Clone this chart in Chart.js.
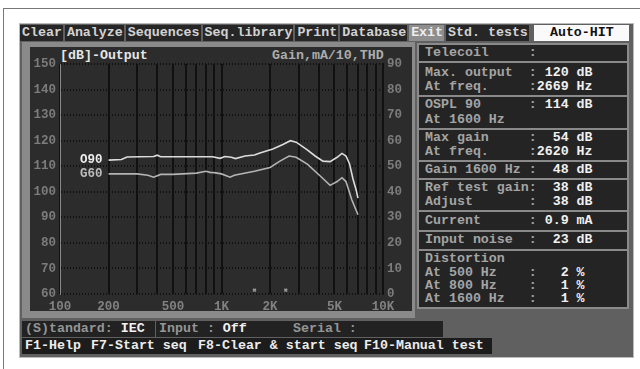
<!DOCTYPE html>
<html><head><meta charset="utf-8">
<script src="https://cdn.jsdelivr.net/npm/chart.js@4/dist/chart.umd.min.js"></script>
<style>
html,body{margin:0;padding:0;background:#fff;}
body{width:640px;height:369px;position:relative;overflow:hidden;font-family:"Liberation Mono","DejaVu Sans Mono",monospace;font-weight:bold;font-size:13.3px;}
.abs{position:absolute;}
#frame{left:3px;top:8px;width:700px;height:400px;border-left:1px solid #777;border-top:1px solid #777;}
#screen{left:19px;top:23px;width:613px;height:333px;background:#606060;border:1px solid #bbb;}
#menu{left:20px;top:25px;height:16px;width:611px;display:flex;background:#606060;}
#menu div{background:#262626;color:#d2d2d2;line-height:16px;padding:0 1px 0 2px;margin-right:2px;white-space:pre;}
#menu div.hl{background:#8e8e8e;color:#eee;}
#menu div.hit{background:#fafafa;color:#111;width:92px;text-align:center;margin-left:3px;margin-right:0;}
#cpanel{left:22px;top:42px;width:393px;height:276px;background:#8a8a8a;}
#cinner{left:30px;top:47px;width:382px;height:264px;background:#2c2c2c;}
#rpanel{left:417px;top:43px;width:212px;height:266px;background:#8a8a8a;}
.box{position:absolute;left:419px;width:208px;background:#242424;}
.ln{position:absolute;left:425px;white-space:pre;color:#a4a4a4;line-height:14px;}
.ln b{color:#f0f0f0;}
.ttl{position:absolute;white-space:pre;line-height:14px;}
.st{position:absolute;background:#222;color:#959595;white-space:pre;line-height:16px;}
.st b{color:#f2f2f2;}
.fk{position:absolute;background:#1c1c1c;color:#ececec;white-space:pre;line-height:16px;}
canvas{position:absolute;left:0;top:0;}
</style></head>
<body>
<div id="frame" class="abs"></div>
<div id="screen" class="abs"></div>
<div id="menu" class="abs">
<div>Clear</div><div>Analyze</div><div>Sequences</div><div>Seq.library</div><div>Print</div><div>Database</div><div class="hl">Exit</div><div>Std. tests</div><div class="hit">Auto-HIT</div>
</div>
<div id="cpanel" class="abs"></div>
<div id="cinner" class="abs"></div>
<div id="rpanel" class="abs"></div>
<div class="box" style="top:45px;height:16px"></div>
<div class="box" style="top:63px;height:32px"></div>
<div class="box" style="top:97px;height:31px"></div>
<div class="box" style="top:130px;height:30px"></div>
<div class="box" style="top:162px;height:16px"></div>
<div class="box" style="top:180px;height:30px"></div>
<div class="box" style="top:212px;height:18px"></div>
<div class="box" style="top:232px;height:17px"></div>
<div class="box" style="top:251px;height:56px"></div>
<div class="ln" style="top:46px">Telecoil     :</div>
<div class="ln" style="top:66px">Max. output  : <b>120 dB</b></div>
<div class="ln" style="top:80px">At freq.     :<b>2669 Hz</b></div>
<div class="ln" style="top:98px">OSPL 90      : <b>114 dB</b></div>
<div class="ln" style="top:113px">At 1600 Hz</div>
<div class="ln" style="top:131px">Max gain     : <b> 54 dB</b></div>
<div class="ln" style="top:145px">At freq.     :<b>2620 Hz</b></div>
<div class="ln" style="top:163px">Gain 1600 Hz : <b> 48 dB</b></div>
<div class="ln" style="top:181px">Ref test gain: <b> 38 dB</b></div>
<div class="ln" style="top:195px">Adjust       : <b> 38 dB</b></div>
<div class="ln" style="top:214px">Current      : <b>0.9 mA</b></div>
<div class="ln" style="top:233px">Input noise  : <b> 23 dB</b></div>
<div class="ln" style="top:252px">Distortion</div>
<div class="ln" style="top:266px">At 500 Hz    :   <b>2 %</b></div>
<div class="ln" style="top:279px">At 800 Hz    :   <b>1 %</b></div>
<div class="ln" style="top:292px">At 1600 Hz   :   <b>1 %</b></div>
<div class="ttl" style="left:60px;top:49px;color:#e6e6e6">[dB]-Output</div>
<div class="ttl" style="left:272px;top:49px;color:#adadad">Gain,mA/10,THD</div>
<div class="st" style="left:22px;top:321px;width:130px;padding-left:3px">(S)tandard: <b>IEC</b></div>
<div class="st" style="left:156px;top:321px;width:131px;padding-left:3px">Input : <b>Off</b></div>
<div class="st" style="left:290px;top:321px;width:150px;padding-left:3px">Serial :</div>
<div class="st" style="left:443px;top:321px;width:185px"></div>
<div class="fk" style="left:22px;top:338px;width:63px;padding-left:3px">F1-Help</div>
<div class="fk" style="left:88px;top:338px;width:104px;padding-left:3px">F7-Start seq</div>
<div class="fk" style="left:195px;top:338px;width:163px;padding-left:3px">F8-Clear &amp; start seq</div>
<div class="fk" style="left:361px;top:338px;width:128px;padding-left:3px">F10-Manual test</div>
<div class="fk" style="left:492px;top:338px;width:136px"></div>
<canvas id="c" width="640" height="369"></canvas>
<script>
// ---- data ----
const o90Freq   = [200, 240, 260, 380, 400, 420, 600, 880, 980, 1050, 1150, 1220, 1400, 1600, 1730, 2080, 2400, 2670, 2900, 3380, 3800, 4250, 4700, 5200, 5570, 5900, 6200, 6520, 6800, 7000];
const o90Values = [112.4, 112.6, 113.6, 113.8, 114.3, 113.7, 113.7, 113.7, 113.1, 113.8, 113.5, 113.0, 114.0, 114.4, 115.2, 116.7, 118.5, 120.0, 119.4, 116.5, 114.0, 112.0, 111.8, 113.5, 115.0, 114.0, 111.0, 105.0, 101.0, 97.5];
const g60Freq   = [200, 300, 350, 380, 420, 500, 700, 800, 850, 900, 1000, 1130, 1200, 1600, 2000, 2300, 2620, 2900, 3400, 4200, 4700, 5200, 5570, 5900, 6400, 7000];
const g60Values = [47.0, 47.0, 46.5, 45.7, 46.8, 46.8, 47.3, 48.0, 47.6, 47.5, 47.0, 45.7, 46.5, 48.0, 49.5, 52.0, 54.0, 53.5, 50.8, 45.5, 42.5, 44.0, 45.5, 44.0, 37.0, 31.0];
const thdFreq   = [1600, 2500];
const thdValues = [1.5, 1.5];
const seriesNames = ['O90', 'G60'];
const xGridValues = [100,200,300,400,500,600,700,800,900,1000,2000,3000,4000,5000,6000,7000,8000,9000,10000];
const xTickValues = [100, 200, 500, 1000, 2000, 5000, 10000];
const xTickLabels = ['100', '200', '500', '1K', '2K', '5K', '10K'];
const leftTicks  = [60,70,80,90,100,110,120,130,140,150];
const rightTicks = [0,10,20,30,40,50,60,70,80,90];

const FONT = {family:'"Liberation Mono","DejaVu Sans Mono",monospace', size:12.5, weight:'bold'};
const pts = (xs, ys) => xs.map((x,i)=>({x, y: ys[i]}));

const seriesLabels = {
  id:'seriesLabels',
  afterDatasetsDraw(chart){
    const ctx = chart.ctx;
    ctx.save();
    ctx.font = 'bold 12.5px "Liberation Mono","DejaVu Sans Mono",monospace';
    ctx.textAlign = 'right'; ctx.textBaseline = 'middle';
    [0,1].forEach(i=>{
      const ds = chart.data.datasets[i];
      const sx = chart.scales.x, sy = chart.scales[ds.yAxisID];
      const p = ds.data[0];
      ctx.fillStyle = i===0 ? '#ececec' : '#bdbdbd';
      ctx.fillText(seriesNames[i], sx.getPixelForValue(p.x) - 6, sy.getPixelForValue(p.y));
    });
    ctx.restore();
  }
};

new Chart(document.getElementById('c'), {
  type:'line',
  data:{datasets:[
    {label:seriesNames[0], data:pts(o90Freq,o90Values), yAxisID:'y', borderColor:'#dcdcdc', borderWidth:1.6, pointRadius:0, tension:0},
    {label:seriesNames[1], data:pts(g60Freq,g60Values), yAxisID:'y1', borderColor:'#b4b4b4', borderWidth:1.6, pointRadius:0, tension:0},
    {label:'THD', type:'scatter', data:pts(thdFreq,thdValues), yAxisID:'y1', pointStyle:'crossRot', pointRadius:2, borderColor:'#9a9a9a', borderWidth:1.5, showLine:false}
  ]},
  options:{
    responsive:false, animation:false, devicePixelRatio:1,
    layout:{padding:{left:30, right:227, top:64, bottom:55}},
    plugins:{legend:{display:false}, tooltip:{enabled:false}, title:{display:false}},
    scales:{
      x:{type:'logarithmic', min:100, max:10000,
        afterBuildTicks(s){ s.ticks = xGridValues.map(v=>({value:v})); },
        afterFit(s){ s.height = 20; },
        ticks:{autoSkip:false, maxRotation:0, color:'#828282', font:FONT, padding:5,
          callback(v){ const i = xTickValues.indexOf(v); return i>=0 ? xTickLabels[i] : ''; }},
        grid:{color:'#111111', lineWidth:2, drawTicks:false},
        border:{display:false}
      },
      y:{position:'left', min:60, max:150,
        afterBuildTicks(s){ s.ticks = leftTicks.map(v=>({value:v})); },
        afterFit(s){ s.width = 30; },
        ticks:{color:'#7c7c7c', font:FONT, padding:4},
        grid:{color:'#111111', lineWidth:2, drawTicks:false},
        border:{display:true, color:'#8a8a8a', width:1, dash:[1,2]}
      },
      y1:{position:'right', min:0, max:90,
        afterBuildTicks(s){ s.ticks = rightTicks.map(v=>({value:v})); },
        afterFit(s){ s.width = 30; },
        ticks:{color:'#7c7c7c', font:FONT, padding:4},
        grid:{display:false, drawTicks:false},
        border:{display:true, color:'#111111', width:2}
      }
    }
  },
  plugins:[seriesLabels]
});
</script>
</body></html>
